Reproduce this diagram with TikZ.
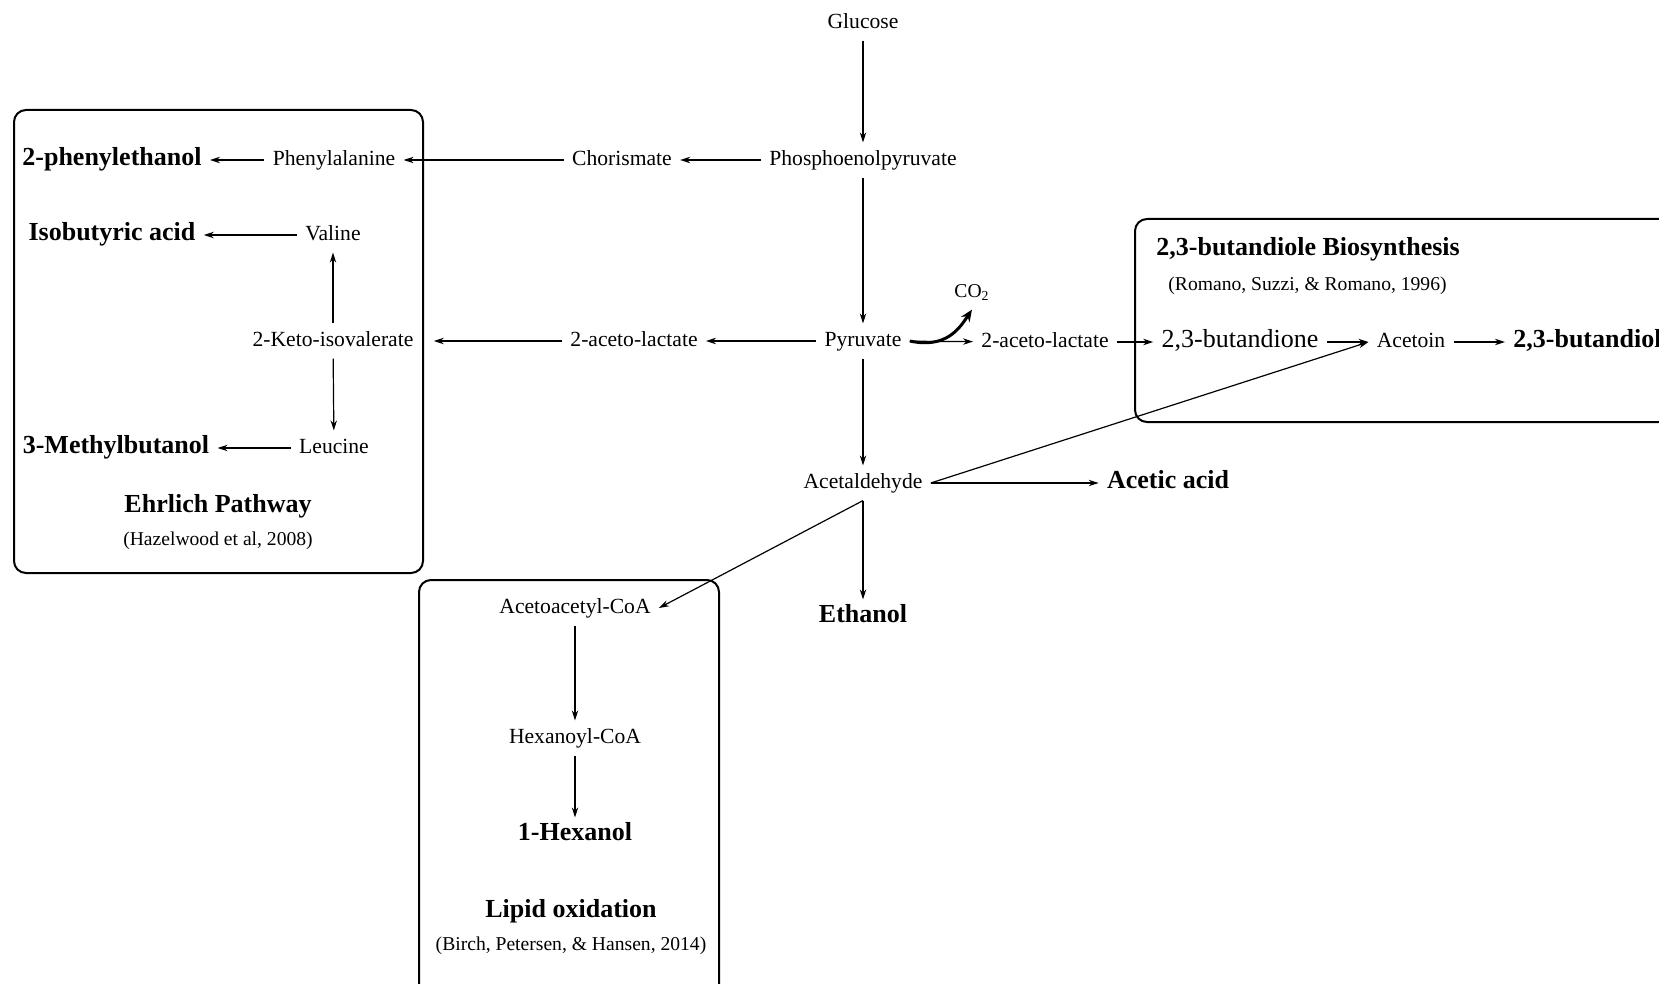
\documentclass[tikz,border=0pt]{standalone}
\usepackage{fontspec}
\setmainfont{Liberation Serif}
\usetikzlibrary{arrows.meta}

\begin{document}
\begin{tikzpicture}[x=0.5pt,y=-0.5pt,
  >={Stealth[length=5pt,width=3.2pt]},
  every node/.style={inner sep=4pt,text height=1.55ex,text depth=0.45ex},
  met/.style={font=\fontsize{10.8}{13}\selectfont},
  prod/.style={font=\fontsize{13}{15}\selectfont\bfseries},
  src/.style={font=\fontsize{9.8}{12}\selectfont},
  frame/.style={line width=1pt,rounded corners=6pt},
  flow/.style={->,line width=0.6pt}]
\useasboundingbox (0,0) rectangle (1659,984);
\clip (0,0) rectangle (1659,984);
% boxes
\draw[frame] (14,110) rectangle (423,573);
\draw[frame] (1135,219) rectangle (1720,422);
\draw[frame] (419,580) rectangle (719,1020);
% main line
\node[met] (glc) at (863,23) {Glucose};
\node[met] (pep) at (863,160) {Phosphoenolpyruvate};
\node[met] (chor) at (622,160) {Chorismate};
\node[met] (pyr) at (863,341) {Pyruvate};
\node[src] (co2) at (972,292) {CO\textsubscript{2}};
\node[met] (alacL) at (634,341) {2-aceto-lactate};
\node[met] (alacR) at (1045,342) {2-aceto-lactate};
\node[met] (acald) at (863,483) {Acetaldehyde};
\node[prod] (acetic) at (1168,483) {Acetic acid};
\node[prod] (ethanol) at (863,617) {Ethanol};
% Ehrlich pathway
\node[met] (phe) at (334,160) {Phenylalanine};
\node[prod] (pheol) at (112,160) {2-phenylethanol};
\node[met] (val) at (333,235) {Valine};
\node[prod] (iba) at (112,235) {Isobutyric acid};
\node[met] (kiv) at (333,341) {2-Keto-isovalerate};
\node[met] (leu) at (334,448) {Leucine};
\node[prod] (mbol) at (116,448) {3-Methylbutanol};
\node[prod] (ehrlich) at (218,507) {Ehrlich Pathway};
\node[src] (hazel) at (218,540) {(Hazelwood et al, 2008)};
% 2,3-butandiole
\node[prod,anchor=west,inner sep=0pt] (bdtitle) at (1156,250) {2,3-butandiole Biosynthesis};
\node[src,anchor=west,inner sep=0pt] (romano) at (1168,285) {(Romano, Suzzi, \& Romano, 1996)};
\node[met,font=\fontsize{13}{15}\selectfont] (bdione) at (1240,342) {2,3-butandione};
\node[met] (acetoin) at (1411,342) {Acetoin};
\node[prod,anchor=west] (bdiol) at (1505,342) {2,3-butandiol};
% lipid oxidation
\node[met] (aacoa) at (575,608) {Acetoacetyl-CoA};
\node[met] (hexcoa) at (575,738) {Hexanoyl-CoA};
\node[prod] (hexol) at (575,835) {1-Hexanol};
\node[prod] (lipid) at (571,912) {Lipid oxidation};
\node[src] (birch) at (571,945) {(Birch, Petersen, \& Hansen, 2014)};
% arrows
\foreach \s/\t in {glc/pep, pep/pyr, pep/chor, chor/phe, phe/pheol, val/iba,
  kiv/val, kiv/leu, leu/mbol, pyr/alacL, pyr/alacR, alacR/bdione,
  bdione/acetoin, acetoin/bdiol, pyr/acald, acald/acetic, aacoa/hexcoa, hexcoa/hexol}
  \draw[flow] (\s) -- (\t);
\draw[flow,shorten >=6pt] (alacL) -- (kiv);
\draw[flow] (acald.south) -- (ethanol);
\draw[flow] (acald.south) -- (aacoa.east);
\draw[flow] (acald.east) -- (acetoin.west);
\draw[->,line width=1.5pt,>={Stealth[length=6pt,width=5pt]}]
  (pyr.east) .. controls +(37,8) and +(-12,18) .. (co2.south);
\end{tikzpicture}
\end{document}
